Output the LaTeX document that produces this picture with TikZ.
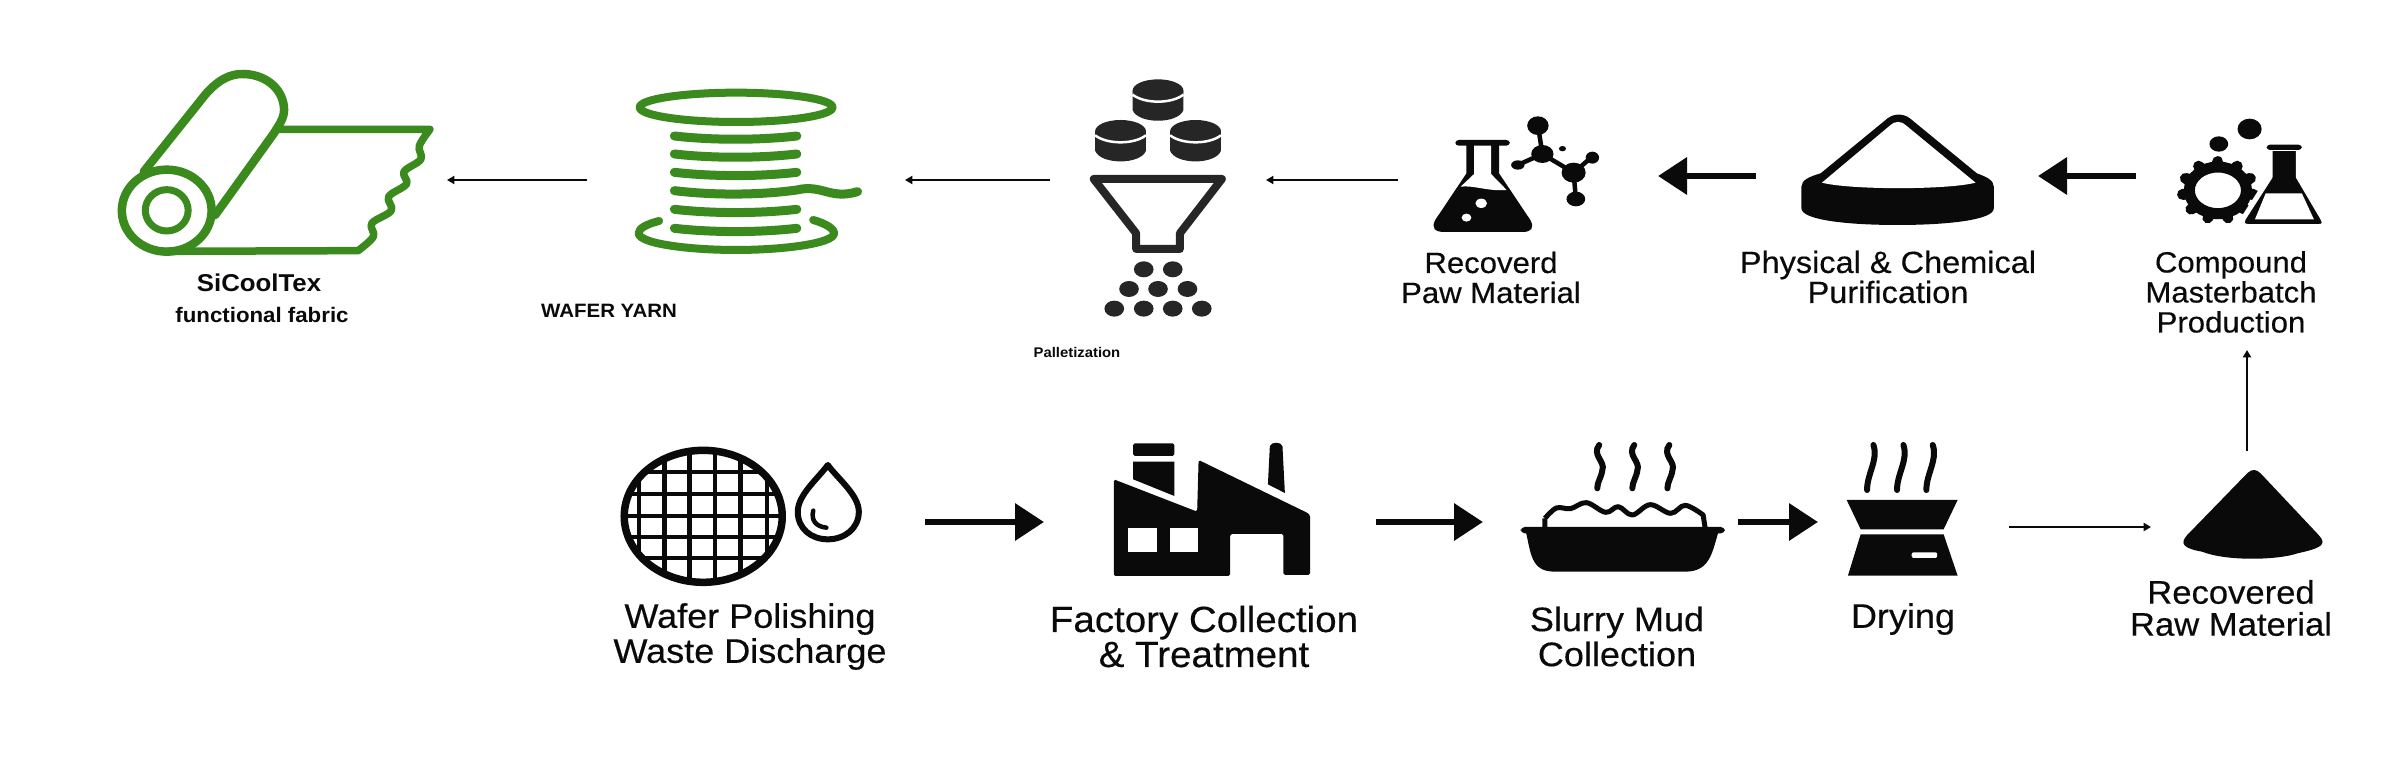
\documentclass[tikz,border=0pt]{standalone}
\usepackage{fontspec}
\setmainfont{Liberation Sans}
\newfontfamily\lab[FakeStretch=1.06,FakeBold=0.35]{Liberation Sans}
\newfontfamily\labb[FakeStretch=1.06]{Liberation Sans Bold}
\usetikzlibrary{arrows.meta}
\definecolor{leaf}{HTML}{3A8A1E}
\definecolor{ink}{HTML}{0A0A0A}
\definecolor{pel}{HTML}{262626}
\newcommand{\fs}[1]{\fontsize{#1}{#1}\selectfont}
\newcommand{\cylindre}[2]{%
  \fill[pel] (#1-57,#2+34) -- (#1-57,#2+92) .. controls (#1-45,#2+135) and (#1+45,#2+135) .. (#1+57,#2+92) -- (#1+57,#2+34) -- cycle;
  \fill[pel] (#1,#2+34) ellipse [x radius=57,y radius=34];
  \draw[white,px=2.5] (#1-57,#2+46) .. controls (#1-30,#2+74) and (#1+30,#2+74) .. (#1+57,#2+46);
}
\tikzset{
  px/.style={line width=#1*0.3pt},
  iconbox/.style 2 args={minimum width=#1*0.3pt,minimum height=#2*0.3pt,inner sep=0pt,outer sep=0pt},
  lbl/.style={font=\lab,align=center,text=ink,inner sep=0pt,outer sep=0pt},
  thickarrow/.style={draw=ink,px=6.5,-{Triangle[length=8.7pt,width=10.8pt]}},
  thinarrow/.style={draw=ink,px=2,-{Triangle[length=2.2pt,width=2.4pt]}},
  greenline/.style={draw=leaf,px=8,line cap=round,line join=round},
}
\begin{document}
\begin{tikzpicture}[x=0.3pt,y=-0.3pt]
\useasboundingbox (0,0) rectangle (2400,760);
\fill[white] (0,0) rectangle (2400,760);

% invisible extents of the icons, used as connector ends
\node[iconbox={327}{200}] (fabric) at (283.5,180) {};
\node[iconbox={318}{200}] (yarn) at (746,180) {};
\node[iconbox={216}{200}] (funnel) at (1158,180) {};
\node[iconbox={260}{200}] (flask) at (1528,176) {};
\node[iconbox={282}{200}] (pile) at (1897,176) {};
\node[iconbox={222}{348}] (gear) at (2247,176) {};
\node[iconbox={325}{200}] (wafer) at (762.5,522) {};
\node[iconbox={332}{200}] (factory) at (1210,522) {};
\node[iconbox={255}{200}] (slurry) at (1610.5,522) {};
\node[iconbox={191}{200}] (drying) at (1913.5,527) {};
\node[iconbox={192}{152}] (rawpile) at (2247,527) {};

% ---- fabric and yarn
\begin{scope}[shift={(80,40)},xscale=0.5102,yscale=0.3333]
\draw[greenline,px=8.5] (170,512) ellipse [x radius=88,y radius=123];
\draw[greenline,px=7] (170,511) ellipse [x radius=42,y radius=62];
\draw[greenline,px=8.5] (125,395) -- (245,165) .. controls (270,120) and (295,100) .. (322,102) .. controls (370,105) and (400,155) .. (400,210) .. controls (400,235) and (390,255) .. (380,280) -- (265,525);
\draw[greenline,px=7.5] (392,268) -- (686,268) plot[smooth,tension=0.6] coordinates {(686,268) (665,318) (668,358) (635,395) (640,432) (605,470) (610,512) (572,550) (575,590) (545,632)} -- (170,634);
\draw[greenline,px=8] (1286,202) ellipse [x radius=189,y radius=44];
\foreach \yy in {288,342,397,508,565}
  \draw[greenline,px=9] (1165,\yy) .. controls (1240,\yy+13) and (1330,\yy+13) .. (1405,\yy);
\draw[greenline,px=9] (1165,452) .. controls (1240,466) and (1330,466) .. (1405,450) .. controls (1455,432) and (1470,480) .. (1524,455);
\draw[greenline,px=8] (1135,543) .. controls (1110,553) and (1095,565) .. (1095,580) .. controls (1095,610) and (1190,630) .. (1286,630) .. controls (1380,630) and (1478,610) .. (1478,580) .. controls (1478,565) and (1460,550) .. (1437,540);
\end{scope}

% ---- pellets, funnel, flask and molecule
\begin{scope}[shift={(1000,50)},xscale=0.4464,yscale=0.3333]
\cylindre{354}{88}
\cylindre{270}{210}
\cylindre{438}{210}
\draw[pel,px=8,line join=round] (210,387) -- (497,387) -- (403,550) -- (403,597) -- (305,597) -- (305,550) -- cycle;
\foreach \xx/\yy in {322/658,387/658,289/717,354/717,420/717,256/776,322/776,387/776,452/776}
  \fill[pel] (\xx,\yy) ellipse [x radius=22,y radius=24];
% flask
\fill[ink] (1045,280) -- (1045,370) -- (975,510) .. controls (965,535) and (975,546) .. (995,546) -- (1170,546) .. controls (1190,546) and (1198,535) .. (1188,510) -- (1118,370) -- (1118,280) -- cycle;
\fill[white] (1062,285) -- (1062,372) -- (1032,410) .. controls (1060,405) and (1095,425) .. (1135,420) -- (1100,372) -- (1100,285) -- cycle;
\fill[ink,rounded corners=1pt] (1020,270) rectangle (1142,287);
\fill[white] (1078,460) ellipse [x radius=13,y radius=14];
\fill[white] (1045,503) ellipse [x radius=11,y radius=12];
% molecule
\draw[ink,px=4.5] (1205,225) -- (1215,312) -- (1160,345);
\draw[ink,px=4.5] (1215,312) -- (1285,368) -- (1325,322);
\draw[ink,px=4.5] (1285,368) -- (1290,447);
\foreach \xx/\yy/\rx/\ry in {1205/227/24/28,1215/312/25/27,1285/368/27/30,1160/345/15/14,1327/323/15/18,1290/447/21/22,1260/296/8/8}
  \fill[ink] (\xx,\yy) ellipse [x radius=\rx,y radius=\ry];
\end{scope}

% ---- purification pile, gear and flask
\begin{scope}[shift={(1680,80)},xscale=0.4464,yscale=0.3333]
\fill[ink] (272,320) .. controls (272,300) and (290,290) .. (315,280) -- (465,115) .. controls (480,100) and (500,100) .. (515,115) -- (665,280) .. controls (685,290) and (703,300) .. (703,320) -- (703,385) .. controls (703,420) and (600,435) .. (487,435) .. controls (375,435) and (272,420) .. (272,385) -- cycle;
\fill[white] (318,308) -- (470,137) .. controls (480,122) and (497,122) .. (507,137) -- (662,308) .. controls (600,330) and (380,330) .. (318,308) -- cycle;
% gear
\foreach \aa in {0,1,...,10}
  \draw[ink,px=11,line cap=round] ({1205+70*cos(90+32.727*\aa)},{331-78*sin(90+32.727*\aa)}) -- ({1205+80*cos(90+32.727*\aa)},{331-86*sin(90+32.727*\aa)});
\draw[ink,px=11] (1205,331) ellipse [x radius=64,y radius=70];
% flask
\fill[ink,draw=white,px=5,line join=round] (1322,205) -- (1322,290) -- (1262,415) .. controls (1255,432) and (1262,440) .. (1275,440) -- (1430,440) .. controls (1442,440) and (1447,432) .. (1440,415) -- (1385,290) -- (1385,205) -- cycle;
\fill[ink,rounded corners=1pt] (1314,194) rectangle (1393,210);
\fill[white] (1312,340) -- (1393,340) -- (1420,418) -- (1288,418) -- cycle;
\fill[ink] (1207,192) ellipse [x radius=21,y radius=23];
\fill[ink] (1276,147) ellipse [x radius=27,y radius=31];
\end{scope}

% ---- wafer, drop, factory
\begin{scope}[shift={(600,420)},xscale=0.4847,yscale=0.3333]
\begin{scope}
\clip (213,289) ellipse [x radius=165,y radius=200];
\foreach \xx in {80,133,185,237,290,345}
  \draw[ink,px=4.5] (\xx,80) -- (\xx,500);
\foreach \yy in {155,221,287,352,414}
  \draw[ink,px=4] (40,\yy) -- (390,\yy);
\end{scope}
\draw[ink,px=7.5] (213,289) ellipse [x radius=163,y radius=198];
\draw[ink,px=6,line join=round] (470,135) .. controls (450,175) and (408,225) .. (408,275) .. controls (408,325) and (435,358) .. (470,358) .. controls (505,358) and (534,325) .. (534,275) .. controls (534,225) and (490,175) .. (470,135) -- cycle;
\draw[ink,px=4.5,line cap=round] (440,272) .. controls (435,300) and (445,320) .. (467,323);
% factory
\fill[ink,rounded corners=0.5pt] (1060,178) -- (1232,275) -- (1235,120) -- (1450,272) .. controls (1462,280) and (1465,285) .. (1465,295) -- (1465,465) -- (1410,465) -- (1410,342) -- (1300,342) -- (1300,468) -- (1060,468) -- cycle;
\fill[white] (1090,325) rectangle (1150,395);
\fill[white] (1177,325) rectangle (1233,395);
\fill[ink,rounded corners=0.5pt] (1100,70) rectangle (1185,108);
\fill[ink] (1100,125) -- (1185,125) -- (1185,228) -- (1100,178) -- cycle;
\fill[ink] (1382,78) .. controls (1385,65) and (1405,65) .. (1408,78) -- (1413,219) -- (1378,193) -- cycle;
\end{scope}

% ---- slurry bowl, drying, cone
\begin{scope}[shift={(1360,420)},xscale=0.6378,yscale=0.3333]
\foreach \xx in {375,430,485}
  \draw[ink,px=6,line cap=round] (\xx,75) .. controls (\xx-12,105) and (\xx+10,125) .. (\xx+5,150) .. controls (\xx+3,175) and (\xx-3,185) .. (\xx-3,205);
\draw[ink,px=5,line join=round] (290,322) -- (290,295) plot[smooth,tension=0.6] coordinates {(290,295) (308,264) (330,266) (355,248) (385,277) (405,260) (427,285) (455,254) (487,280) (510,256) (538,285)} -- (541,322);
\fill[ink,rounded corners=1.2pt] (252,321) rectangle (572,340);
\fill[ink] (260,335) .. controls (268,400) and (268,455) .. (305,455) -- (510,455) .. controls (548,455) and (552,400) .. (562,335) -- cycle;
\foreach \xx in {805,852,898}
  \draw[ink,px=6,line cap=round] (\xx,75) .. controls (\xx+8,120) and (\xx-10,160) .. (\xx-10,210);
\fill[ink] (763,240) -- (937,240) -- (915,328) -- (785,328) -- cycle;
\fill[ink] (785,343) -- (915,343) -- (937,467) -- (765,467) -- cycle;
\fill[white,rounded corners=0.6pt] (865,397) rectangle (905,414);
\fill[ink] (1392,158) .. controls (1400,146) and (1405,148) .. (1412,160) -- (1503,345) .. controls (1518,375) and (1505,385) .. (1470,400) .. controls (1440,420) and (1360,425) .. (1320,395) .. controls (1290,385) and (1285,370) .. (1297,345) -- cycle;
\end{scope}

% ---- connectors
\draw[thinarrow] (yarn.west) -- (fabric.east);
\draw[thinarrow] (funnel.west) -- (yarn.east);
\draw[thinarrow] (funnel.east -| flask.west) -- (funnel.east);
\draw[thickarrow] (pile.west) -- (flask.east);
\draw[thickarrow] (gear.west) -- (pile.east);
\draw[thinarrow] (rawpile.north) -- (gear.south);
\draw[thickarrow] (wafer.east) -- (factory.west);
\draw[thickarrow] (factory.east) -- (slurry.west);
\draw[thickarrow] (slurry.east) -- (slurry.east -| drying.west);
\draw[thinarrow] (drying.east) -- (rawpile.west);

% ---- labels
\node[lbl,font=\labb\fs{7.3}] (lfab) at (259,283) {SiCoolTex};
\node[lbl,font=\labb\fs{6.3}] (lfab2) at (262,315) {functional fabric};
\node[lbl,font=\labb\fs{5.8}] (lyarn) at (609,311) {WAFER YARN};
\node[lbl,font=\labb\fs{4.2}] (lpel) at (1077,352) {Palletization};
\node[lbl,font=\lab\fontsize{8.8}{9}\selectfont] (lflask) at (1491,277.5) {Recoverd\\Paw Material};
\node[lbl,font=\lab\fontsize{9.2}{9}\selectfont] (lpile) at (1888,277) {Physical \& Chemical\\Purification};
\node[lbl,font=\lab\fontsize{8.8}{9}\selectfont] (lgear) at (2231,292) {Compound\\Masterbatch\\Production};
\node[lbl,font=\lab\fontsize{10.2}{10.5}\selectfont] (lwafer) at (750,636.5) {Wafer Polishing\\Waste Discharge};
\node[lbl,font=\lab\fontsize{10.9}{10.5}\selectfont] (lfactory) at (1204,636.5) {Factory Collection\\\& Treatment};
\node[lbl,font=\lab\fontsize{10.2}{10.5}\selectfont] (lslurry) at (1617,636.5) {Slurry Mud\\Collection};
\node[lbl,font=\lab\fs{10.2}] (ldry) at (1903,619) {Drying};
\node[lbl,font=\lab\fontsize{9.8}{9.6}\selectfont] (lraw) at (2231,608) {Recovered\\Raw Material};
\end{tikzpicture}
\end{document}
